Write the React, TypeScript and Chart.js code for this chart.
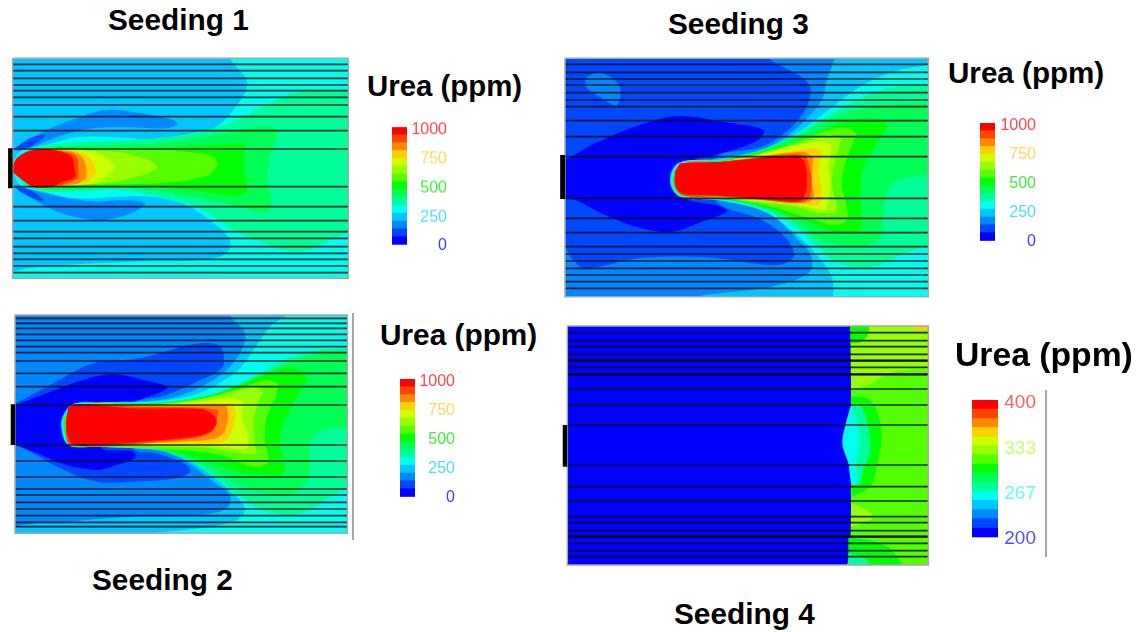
import React, { useEffect, useRef } from "react";
import { Chart, registerables } from "chart.js";

Chart.register(...registerables);

type Pt = [number, number];
type Layer = [string, Pt[]];

const FONT = '"Liberation Sans", Arial, sans-serif';

// 15 colour levels of the contour map, lowest to highest
const LEVELS = ["#0000ff", "#0048ff", "#0088ff", "#00c8ff", "#00ffee", "#00ff99", "#00ff55", "#00ff00", "#55ff00", "#99ff00", "#ccff00", "#ffd000", "#ff8800", "#ff4400", "#ff0000"];
const [L0, L1, L2, L3, L4, L5, L6, L7, L8, L9, L10, L11, L12, L13, L14] = LEVELS;

const WHOLE: Pt[] = [[-50, -50], [1700, -50], [1700, 800], [-50, 800]];

// Seeding 1 contour outlines, lowest level first
const seeding1Layers: Layer[] = [
  [L3, WHOLE],
  [L2, [[45, 295], [130, 245], [230, 205], [320, 180], [420, 190], [520, 210], [533, 222], [500, 235], [380, 232], [280, 235], [180, 258], [100, 290], [50, 302]]],
  [L1, [[45, 295], [90, 265], [135, 255], [100, 285], [60, 302]]],
  [L2, [[45, 412], [130, 465], [200, 495], [300, 510], [380, 495], [435, 465], [425, 455], [360, 450], [290, 455], [180, 440], [100, 420], [60, 405]]],
  [L1, [[45, 412], [90, 420], [130, 450], [110, 450], [60, 425]]],
  [L4, [[1100, -20], [690, -20], [690, 25], [742, 100], [700, 180], [640, 237], [560, 262], [460, 268], [350, 262], [230, 262], [140, 285], [60, 305], [40, 350], [60, 405], [130, 425], [230, 445], [350, 440], [460, 440], [560, 465], [640, 520], [690, 570], [680, 610], [600, 630], [400, 635], [200, 645], [38, 665], [20, 700], [1100, 700]]],
  [L5, [[1100, 120], [900, 125], [800, 165], [700, 215], [620, 240], [500, 262], [350, 272], [200, 280], [90, 298], [45, 350], [90, 415], [200, 425], [350, 420], [480, 440], [600, 475], [700, 540], [780, 575], [850, 600], [920, 600], [990, 570], [1100, 530]]],
  [L6, [[830, 260], [830, 240], [800, 228], [700, 245], [600, 262], [480, 280], [350, 285], [200, 290], [110, 300], [48, 352], [110, 410], [200, 420], [350, 412], [480, 425], [600, 445], [720, 470], [800, 488], [815, 460], [805, 400], [805, 340], [820, 290]]],
  [L7, [[735, 280], [640, 285], [500, 292], [300, 295], [130, 298], [50, 352], [130, 412], [200, 412], [400, 405], [600, 425], [735, 430], [730, 350]]],
  [L8, [[655, 345], [640, 320], [560, 305], [420, 298], [250, 298], [130, 300], [52, 352], [130, 410], [250, 405], [400, 402], [540, 395], [630, 375]]],
  [L9, [[475, 350], [440, 328], [350, 305], [220, 300], [120, 300], [55, 352], [120, 410], [220, 405], [350, 395], [440, 372]]],
  [L10, [[348, 352], [320, 325], [280, 305], [210, 300], [110, 300], [58, 352], [110, 410], [200, 405], [280, 400], [320, 380]]],
  [L11, [[290, 365], [270, 325], [240, 308], [200, 300], [105, 300], [58, 352], [105, 410], [200, 405], [265, 398]]],
  [L12, [[260, 365], [255, 340], [240, 315], [200, 302], [105, 300], [50, 352], [105, 410], [190, 408], [235, 400], [258, 385]]],
  [L13, [[235, 360], [230, 320], [190, 305], [100, 300], [45, 352], [100, 410], [170, 408], [215, 395], [235, 385]]],
  [L14, [[36, 350], [55, 320], [100, 300], [170, 302], [215, 320], [222, 350], [225, 380], [190, 395], [150, 410], [100, 410], [60, 385], [38, 365]]],
];
const seeding1Mesh = [43, 62, 85, 105, 122, 142, 165, 200, 242, 297, 410, 470, 512, 545, 565, 590, 610, 628, 648, 668];

// Seeding 2 contour outlines
const seeding2Layers: Layer[] = [
  [L2, WHOLE],
  [L1, [[20, 295], [45, 295], [150, 240], [280, 175], [420, 160], [580, 118], [650, 118], [670, 145], [665, 190], [590, 230], [500, 270], [400, 300], [400, 430], [470, 445], [560, 480], [570, 500], [530, 520], [400, 530], [290, 530], [180, 490], [100, 445], [45, 420], [20, 420]]],
  [L0, [[20, 305], [45, 300], [100, 280], [250, 225], [340, 208], [430, 225], [503, 245], [490, 258], [400, 290], [300, 320], [300, 425], [400, 440], [405, 458], [350, 480], [290, 495], [200, 480], [110, 445], [45, 420], [20, 420]]],
  [L3, [[1100, -20], [690, -20], [690, 30], [735, 85], [725, 135], [690, 185], [640, 225], [560, 265], [480, 285], [300, 292], [220, 296], [195, 320], [183, 360], [205, 420], [300, 425], [470, 435], [560, 470], [640, 530], [690, 570], [680, 610], [600, 630], [400, 635], [200, 650], [45, 665], [20, 700], [1100, 700]]],
  [L4, [[1100, -20], [880, -20], [860, 30], [815, 60], [770, 120], [720, 190], [640, 245], [560, 275], [450, 290], [300, 293], [225, 296], [198, 320], [186, 360], [207, 420], [300, 425], [400, 430], [500, 440], [590, 480], [680, 550], [735, 610], [700, 650], [550, 675], [300, 700], [1100, 700]]],
  [L5, [[1100, 130], [960, 135], [860, 160], [780, 205], [700, 245], [600, 275], [480, 292], [240, 297], [200, 320], [189, 360], [209, 420], [240, 425], [420, 428], [520, 445], [620, 500], [700, 560], [790, 615], [850, 630], [920, 620], [1000, 570], [1100, 530]]],
  [L6, [[1100, 145], [940, 150], [840, 185], [760, 220], [680, 255], [580, 282], [460, 295], [240, 298], [202, 320], [191, 360], [210, 420], [240, 425], [430, 425], [530, 450], [630, 490], [720, 540], [790, 565], [870, 570], [925, 520], [930, 460], [930, 410], [970, 375], [1100, 368]]],
  [L7, [[925, 225], [900, 195], [860, 188], [790, 210], [700, 250], [600, 280], [470, 295], [240, 298], [204, 320], [193, 360], [211, 420], [240, 425], [440, 422], [540, 445], [640, 475], [730, 505], [780, 510], [840, 510], [855, 490], [840, 420], [845, 370], [880, 290]]],
  [L8, [[835, 235], [800, 225], [720, 250], [620, 278], [480, 297], [240, 298], [205, 320], [195, 360], [212, 420], [240, 422], [540, 435], [660, 450], [760, 485], [805, 470], [795, 410], [800, 340], [830, 270]]],
  [L9, [[790, 260], [770, 245], [700, 262], [600, 283], [480, 297], [240, 298], [206, 320], [196, 360], [213, 420], [240, 422], [620, 428], [730, 445], [770, 445], [765, 420], [760, 350], [775, 290]]],
  [L10, [[730, 290], [690, 280], [600, 290], [480, 300], [240, 298], [206, 320], [197, 360], [214, 420], [240, 421], [600, 420], [700, 430], [740, 430], [745, 400], [725, 340]]],
  [L11, [[700, 295], [620, 295], [480, 300], [240, 298], [206, 320], [197, 360], [214, 420], [240, 420], [550, 415], [670, 410], [695, 380], [708, 330]]],
  [L12, [[680, 302], [640, 300], [480, 302], [240, 298], [206, 320], [197, 360], [214, 420], [230, 420], [540, 410], [640, 402], [670, 385], [685, 340]]],
  [L13, [[655, 315], [600, 308], [400, 305], [240, 298], [206, 320], [197, 360], [214, 420], [540, 405], [630, 385], [650, 350]]],
  [L14, [[205, 305], [240, 298], [400, 310], [600, 312], [640, 330], [650, 355], [630, 380], [580, 395], [450, 408], [320, 418], [220, 418], [200, 380], [198, 350]]],
];
const seeding2Mesh = [40, 55, 70, 88, 106, 125, 143, 168, 205, 245, 300, 420, 468, 516, 552, 570, 592, 612, 632, 652, 665];

// Seeding 3 contour outlines
const seeding3Layers: Layer[] = [
  [L2, WHOLE],
  [L1, [[0, -20], [600, -20], [640, 25], [760, 100], [755, 170], [700, 240], [620, 290], [480, 325], [480, 450], [620, 510], [690, 560], [718, 615], [690, 640], [640, 645], [450, 622], [250, 625], [90, 655], [50, 625], [30, 590], [0, 560]]],
  [L0, [[0, 335], [30, 330], [120, 280], [240, 230], [370, 198], [500, 215], [625, 240], [610, 270], [500, 310], [400, 335], [345, 370], [380, 440], [500, 470], [515, 485], [440, 515], [350, 545], [260, 535], [150, 495], [60, 450], [0, 445]]],
  [L2, [[88, 85], [130, 68], [180, 90], [197, 125], [185, 165], [140, 145], [95, 115]]],
  [L3, [[1200, -20], [850, -20], [840, 25], [815, 90], [800, 150], [730, 230], [640, 290], [500, 325], [370, 340], [345, 395], [375, 440], [500, 450], [640, 490], [720, 560], [770, 620], [760, 670], [650, 710], [450, 735], [330, 760], [1200, 760]]],
  [L4, [[1200, 40], [1120, 45], [1000, 70], [900, 120], [820, 180], [740, 240], [650, 290], [500, 328], [372, 338], [348, 395], [375, 440], [500, 452], [630, 485], [720, 550], [790, 620], [830, 680], [850, 760], [1200, 760]]],
  [L5, [[1200, 100], [1000, 115], [880, 165], [790, 215], [700, 265], [600, 308], [500, 330], [375, 342], [352, 395], [378, 438], [500, 448], [620, 478], [720, 530], [790, 590], [850, 640], [950, 650], [1050, 610], [1200, 555]]],
  [L6, [[1200, 160], [1020, 162], [900, 180], [810, 215], [720, 260], [620, 300], [500, 332], [376, 342], [354, 395], [380, 437], [500, 447], [620, 472], [720, 515], [800, 570], [900, 590], [975, 565], [985, 480], [1020, 395], [1200, 370]]],
  [L7, [[998, 230], [985, 210], [930, 205], [840, 225], [750, 265], [650, 298], [500, 333], [377, 342], [356, 395], [381, 436], [500, 446], [620, 468], [730, 505], [850, 550], [915, 540], [920, 500], [915, 420], [930, 340], [960, 290]]],
  [L8, [[905, 250], [880, 235], [820, 240], [740, 270], [640, 302], [500, 334], [378, 342], [358, 395], [382, 435], [500, 445], [600, 460], [700, 485], [780, 510], [840, 525], [875, 510], [875, 470], [860, 400], [870, 340]]],
  [L9, [[860, 265], [820, 255], [740, 280], [640, 306], [500, 335], [378, 342], [358, 395], [382, 435], [500, 444], [600, 455], [720, 470], [810, 490], [845, 480], [830, 400], [840, 330]]],
  [L10, [[830, 285], [800, 275], [720, 285], [620, 312], [500, 335], [378, 342], [358, 395], [382, 435], [500, 442], [600, 452], [700, 460], [780, 475], [810, 480], [825, 420], [820, 350]]],
  [L11, [[800, 305], [785, 295], [700, 305], [600, 320], [500, 335], [378, 342], [358, 395], [382, 435], [500, 440], [600, 450], [720, 460], [790, 465], [800, 430], [790, 360]]],
  [L12, [[775, 320], [740, 305], [600, 322], [500, 335], [378, 342], [358, 395], [382, 435], [500, 440], [600, 448], [740, 460], [775, 445], [770, 390]]],
  [L13, [[755, 320], [720, 312], [600, 325], [500, 335], [378, 342], [358, 395], [382, 435], [500, 440], [600, 447], [730, 458], [765, 440], [770, 380]]],
  [L14, [[375, 340], [500, 335], [700, 318], [745, 330], [755, 390], [745, 445], [720, 455], [600, 445], [450, 435], [385, 432], [362, 410], [360, 365]]],
];
const seeding3Mesh = [43, 67, 87, 105, 128, 150, 170, 212, 260, 320, 445, 505, 548, 590, 612, 633, 655, 675, 695, 715];

// Seeding 4 contour outlines
const seeding4Layers: Layer[] = [
  [L0, WHOLE],
  [L8, [[885, -20], [1200, -20], [1200, 760], [880, 760], [885, 700], [888, 560], [888, 200]]],
  [L9, [[888, -20], [1200, -20], [1200, 145], [1090, 148], [1000, 160], [950, 190], [888, 210]]],
  [L7, [[888, -20], [935, -20], [940, 40], [920, 65], [888, 70]]],
  [L11, [[1075, 30], [1085, 15], [1200, 15], [1200, 32]]],
  [L9, [[888, 550], [925, 565], [955, 590], [925, 610], [888, 620]]],
  [L7, [[880, 650], [960, 665], [1010, 690], [1045, 760], [880, 760]]],
  [L5, [[880, 700], [930, 715], [955, 760], [880, 760]]],
  [L7, [[888, 230], [935, 235], [965, 270], [980, 350], [965, 440], [945, 500], [890, 530]]],
  [L5, [[888, 250], [920, 260], [940, 320], [945, 400], [925, 450], [915, 490], [890, 495]]],
  [L4, [[888, 255], [905, 300], [915, 360], [905, 430], [905, 490], [890, 490], [880, 430], [862, 370], [875, 300]]],
];
const seeding4Mesh = [38, 62, 80, 103, 122, 142, 163, 207, 255, 315, 435, 500, 543, 590, 608, 632, 650, 670, 692, 710];
const seeding4HeavyMesh = [122, 163, 650];

// Colour-bar values
const ureaTicks = [0, 250, 500, 750, 1000];
const ureaTickColors = ["#3c3cff", "#50dcff", "#40ee40", "#ffd860", "#ff4848"];
const ureaBandEdges = [13, 80, 148, 215, 283, 350, 418, 485, 553, 620, 688, 755, 823, 890, 958, 1025];
const seed4Ticks = [200, 267, 333, 400];
const seed4TickColors = ["#5050ff", "#60ffee", "#ccff70", "#ff6060"];
const seed4BandEdges = [203, 216, 230, 243, 257, 270, 283, 297, 310, 324, 337, 350, 364, 377, 391, 404];

const titles = [
  { text: "Seeding 1", left: 108, top: 20, size: 29.8 },
  { text: "Seeding 2", left: 92, top: 580, size: 29.8 },
  { text: "Seeding 3", left: 668, top: 24, size: 29.8 },
  { text: "Seeding 4", left: 674, top: 614, size: 29.8 },
  { text: "Urea (ppm)", left: 367, top: 86, size: 29.4 },
  { text: "Urea (ppm)", left: 380, top: 335, size: 29.8 },
  { text: "Urea (ppm)", left: 948, top: 73, size: 29.6 },
  { text: "Urea (ppm)", left: 955, top: 355, size: 33.7 },
];

type PanelCfg = {
  left: number; top: number; width: number; height: number;
  x0: number; x1: number; y0: number; y1: number;
  layers: Layer[]; mesh: number[]; heavy?: number[];
  nozzle: Pt[]; nozzleWidth: number; rule?: Pt[];
};

const panels: PanelCfg[] = [
  { left: 0, top: 50, width: 360, height: 240, x0: 38, x1: 1045, y0: 25, y1: 685, layers: seeding1Layers, mesh: seeding1Mesh, nozzle: [[31, 295], [31, 415]], nozzleWidth: 4.5 },
  { left: 0, top: 305, width: 360, height: 240, x0: 45, x1: 1042, y0: 30, y1: 685, layers: seeding2Layers, mesh: seeding2Mesh, nozzle: [[39, 298], [39, 420]], nozzleWidth: 4.5, rule: [[1059, 24], [1059, 705]] },
  { left: 555, top: 50, width: 380, height: 255, x0: 30, x1: 1120, y0: 25, y1: 740, layers: seeding3Layers, mesh: seeding3Mesh, nozzle: [[23, 315], [23, 447]], nozzleWidth: 5 },
  { left: 555, top: 320, width: 495, height: 255, x0: 37, x1: 1120, y0: 18, y1: 735, layers: seeding4Layers, mesh: seeding4Mesh, heavy: seeding4HeavyMesh, nozzle: [[30, 315], [30, 440]], nozzleWidth: 4.5, rule: [[1473, 210], [1473, 711]] },
];

type BarCfg = {
  left: number; top: number; bottom: number; barWidth: number; labelWidth: number; gap: number;
  min: number; max: number; ticks: number[]; tickColors: string[]; edges: number[]; fontSize: number;
};

const BAR_PAD = 18;

const bars: BarCfg[] = [
  { left: 392, top: 127, bottom: 245.5, barWidth: 15, labelWidth: 36, gap: 4, min: 0, max: 1025, ticks: ureaTicks, tickColors: ureaTickColors, edges: ureaBandEdges, fontSize: 16 },
  { left: 400, top: 379, bottom: 498, barWidth: 15, labelWidth: 36, gap: 4, min: 0, max: 1025, ticks: ureaTicks, tickColors: ureaTickColors, edges: ureaBandEdges, fontSize: 16 },
  { left: 980, top: 123, bottom: 242, barWidth: 15, labelWidth: 36, gap: 5, min: 0, max: 1025, ticks: ureaTicks, tickColors: ureaTickColors, edges: ureaBandEdges, fontSize: 16 },
  { left: 972, top: 400, bottom: 539, barWidth: 26, labelWidth: 33, gap: 5, min: 200, max: 404.4, ticks: seed4Ticks, tickColors: seed4TickColors, edges: seed4BandEdges, fontSize: 19 },
];

function toXY(pts: Pt[]) {
  return pts.map(([x, y]) => ({ x, y }));
}

function panelConfig(p: PanelCfg): any {
  const ds: any[] = [];
  p.layers.forEach(([color, pts]) => {
    ds.push({
      data: toXY(pts), showLine: true, fill: "shape", backgroundColor: color,
      borderColor: "transparent", borderWidth: 0, pointRadius: 0,
      tension: pts === WHOLE ? 0 : 0.35,
    });
  });
  p.mesh.forEach((y) => {
    const heavy = p.heavy && p.heavy.includes(y);
    ds.push({
      data: toXY([[p.x0, y], [p.x1, y]]), showLine: true, fill: false, pointRadius: 0,
      borderColor: heavy ? "rgba(0,0,0,1)" : "rgba(0,15,25,0.85)", borderWidth: heavy ? 2.2 : 1.7,
    });
  });
  const frame: Pt[] = [[p.x0, p.y0], [p.x1, p.y0], [p.x1, p.y1], [p.x0, p.y1], [p.x0, p.y0]];
  ds.push({ data: toXY(frame), showLine: true, fill: false, pointRadius: 0, borderColor: "#a8a8a8", borderWidth: 1.5, clip: false });
  ds.push({ data: toXY(p.nozzle), showLine: true, fill: false, pointRadius: 0, borderColor: "#000", borderWidth: p.nozzleWidth, clip: false });
  if (p.rule) ds.push({ data: toXY(p.rule), showLine: true, fill: false, pointRadius: 0, borderColor: "#8c8c8c", borderWidth: 1.5, clip: false });
  ds.reverse(); // Chart.js paints the last dataset first
  return {
    type: "scatter",
    data: { datasets: ds },
    options: {
      animation: false, responsive: false, events: [],
      layout: { padding: { left: p.x0 / 3, right: p.width - p.x1 / 3, top: p.y0 / 3, bottom: p.height - p.y1 / 3 } },
      plugins: { legend: { display: false }, tooltip: { enabled: false }, title: { display: false } },
      scales: {
        x: { type: "linear", display: false, min: p.x0, max: p.x1 },
        y: { type: "linear", display: false, min: p.y0, max: p.y1, reverse: true },
      },
    },
  };
}

function barConfig(b: BarCfg): any {
  return {
    type: "bar",
    data: {
      labels: ["Urea"],
      datasets: LEVELS.map((color, i) => ({
        data: [[b.edges[i], b.edges[i + 1]]], backgroundColor: color, borderWidth: 0,
        grouped: false, categoryPercentage: 1, barPercentage: 1,
      })),
    },
    options: {
      animation: false, responsive: false, events: [],
      layout: { padding: { top: BAR_PAD, bottom: BAR_PAD, left: 0, right: 0 } },
      plugins: { legend: { display: false }, tooltip: { enabled: false } },
      scales: {
        x: { display: false },
        y: {
          position: "right", min: b.min, max: b.max,
          grid: { display: false, drawTicks: false }, border: { display: false },
          afterBuildTicks: (s: any) => { s.ticks = b.ticks.map((value) => ({ value })); },
          afterFit: (s: any) => { s.width = b.labelWidth + b.gap; s.paddingTop = 0; s.paddingBottom = 0; },
          ticks: {
            padding: b.gap, crossAlign: "far", autoSkip: false,
            font: { family: FONT, size: b.fontSize },
            color: (c: any) => b.tickColors[c.index],
            callback: (v: any) => String(v),
          },
        },
      },
    },
  };
}

function ChartCanvas({ config, style, width, height }: { config: any; style: React.CSSProperties; width: number; height: number }) {
  const ref = useRef<HTMLCanvasElement>(null);
  useEffect(() => {
    const chart = new Chart(ref.current as HTMLCanvasElement, config);
    return () => chart.destroy();
  }, [config]);
  return <canvas ref={ref} width={width} height={height} style={{ position: "absolute", display: "block", width, height, ...style }} />;
}

const panelConfigs = panels.map(panelConfig);
const barConfigs = bars.map(barConfig);

export default function App() {
  return (
    <div style={{ position: "absolute", left: 0, top: 0, width: 1138, height: 632, overflow: "hidden", background: "#fff" }}>
      {panels.map((p, i) => (
        <ChartCanvas key={i} config={panelConfigs[i]} width={p.width} height={p.height} style={{ left: p.left, top: p.top, filter: "blur(0.7px)" }} />
      ))}
      {bars.map((b, i) => (
        <ChartCanvas key={i} config={barConfigs[i]} width={b.barWidth + b.gap + b.labelWidth} height={b.bottom - b.top + 2 * BAR_PAD} style={{ left: b.left, top: b.top - BAR_PAD, filter: "blur(0.5px)" }} />
      ))}
      {titles.map((t, i) => (
        <span key={i} style={{ position: "absolute", left: t.left, top: t.top, transform: "translateY(-50%)", fontFamily: FONT, fontWeight: 700, fontSize: t.size, lineHeight: 1, whiteSpace: "nowrap", color: "#000" }}>{t.text}</span>
      ))}
    </div>
  );
}
